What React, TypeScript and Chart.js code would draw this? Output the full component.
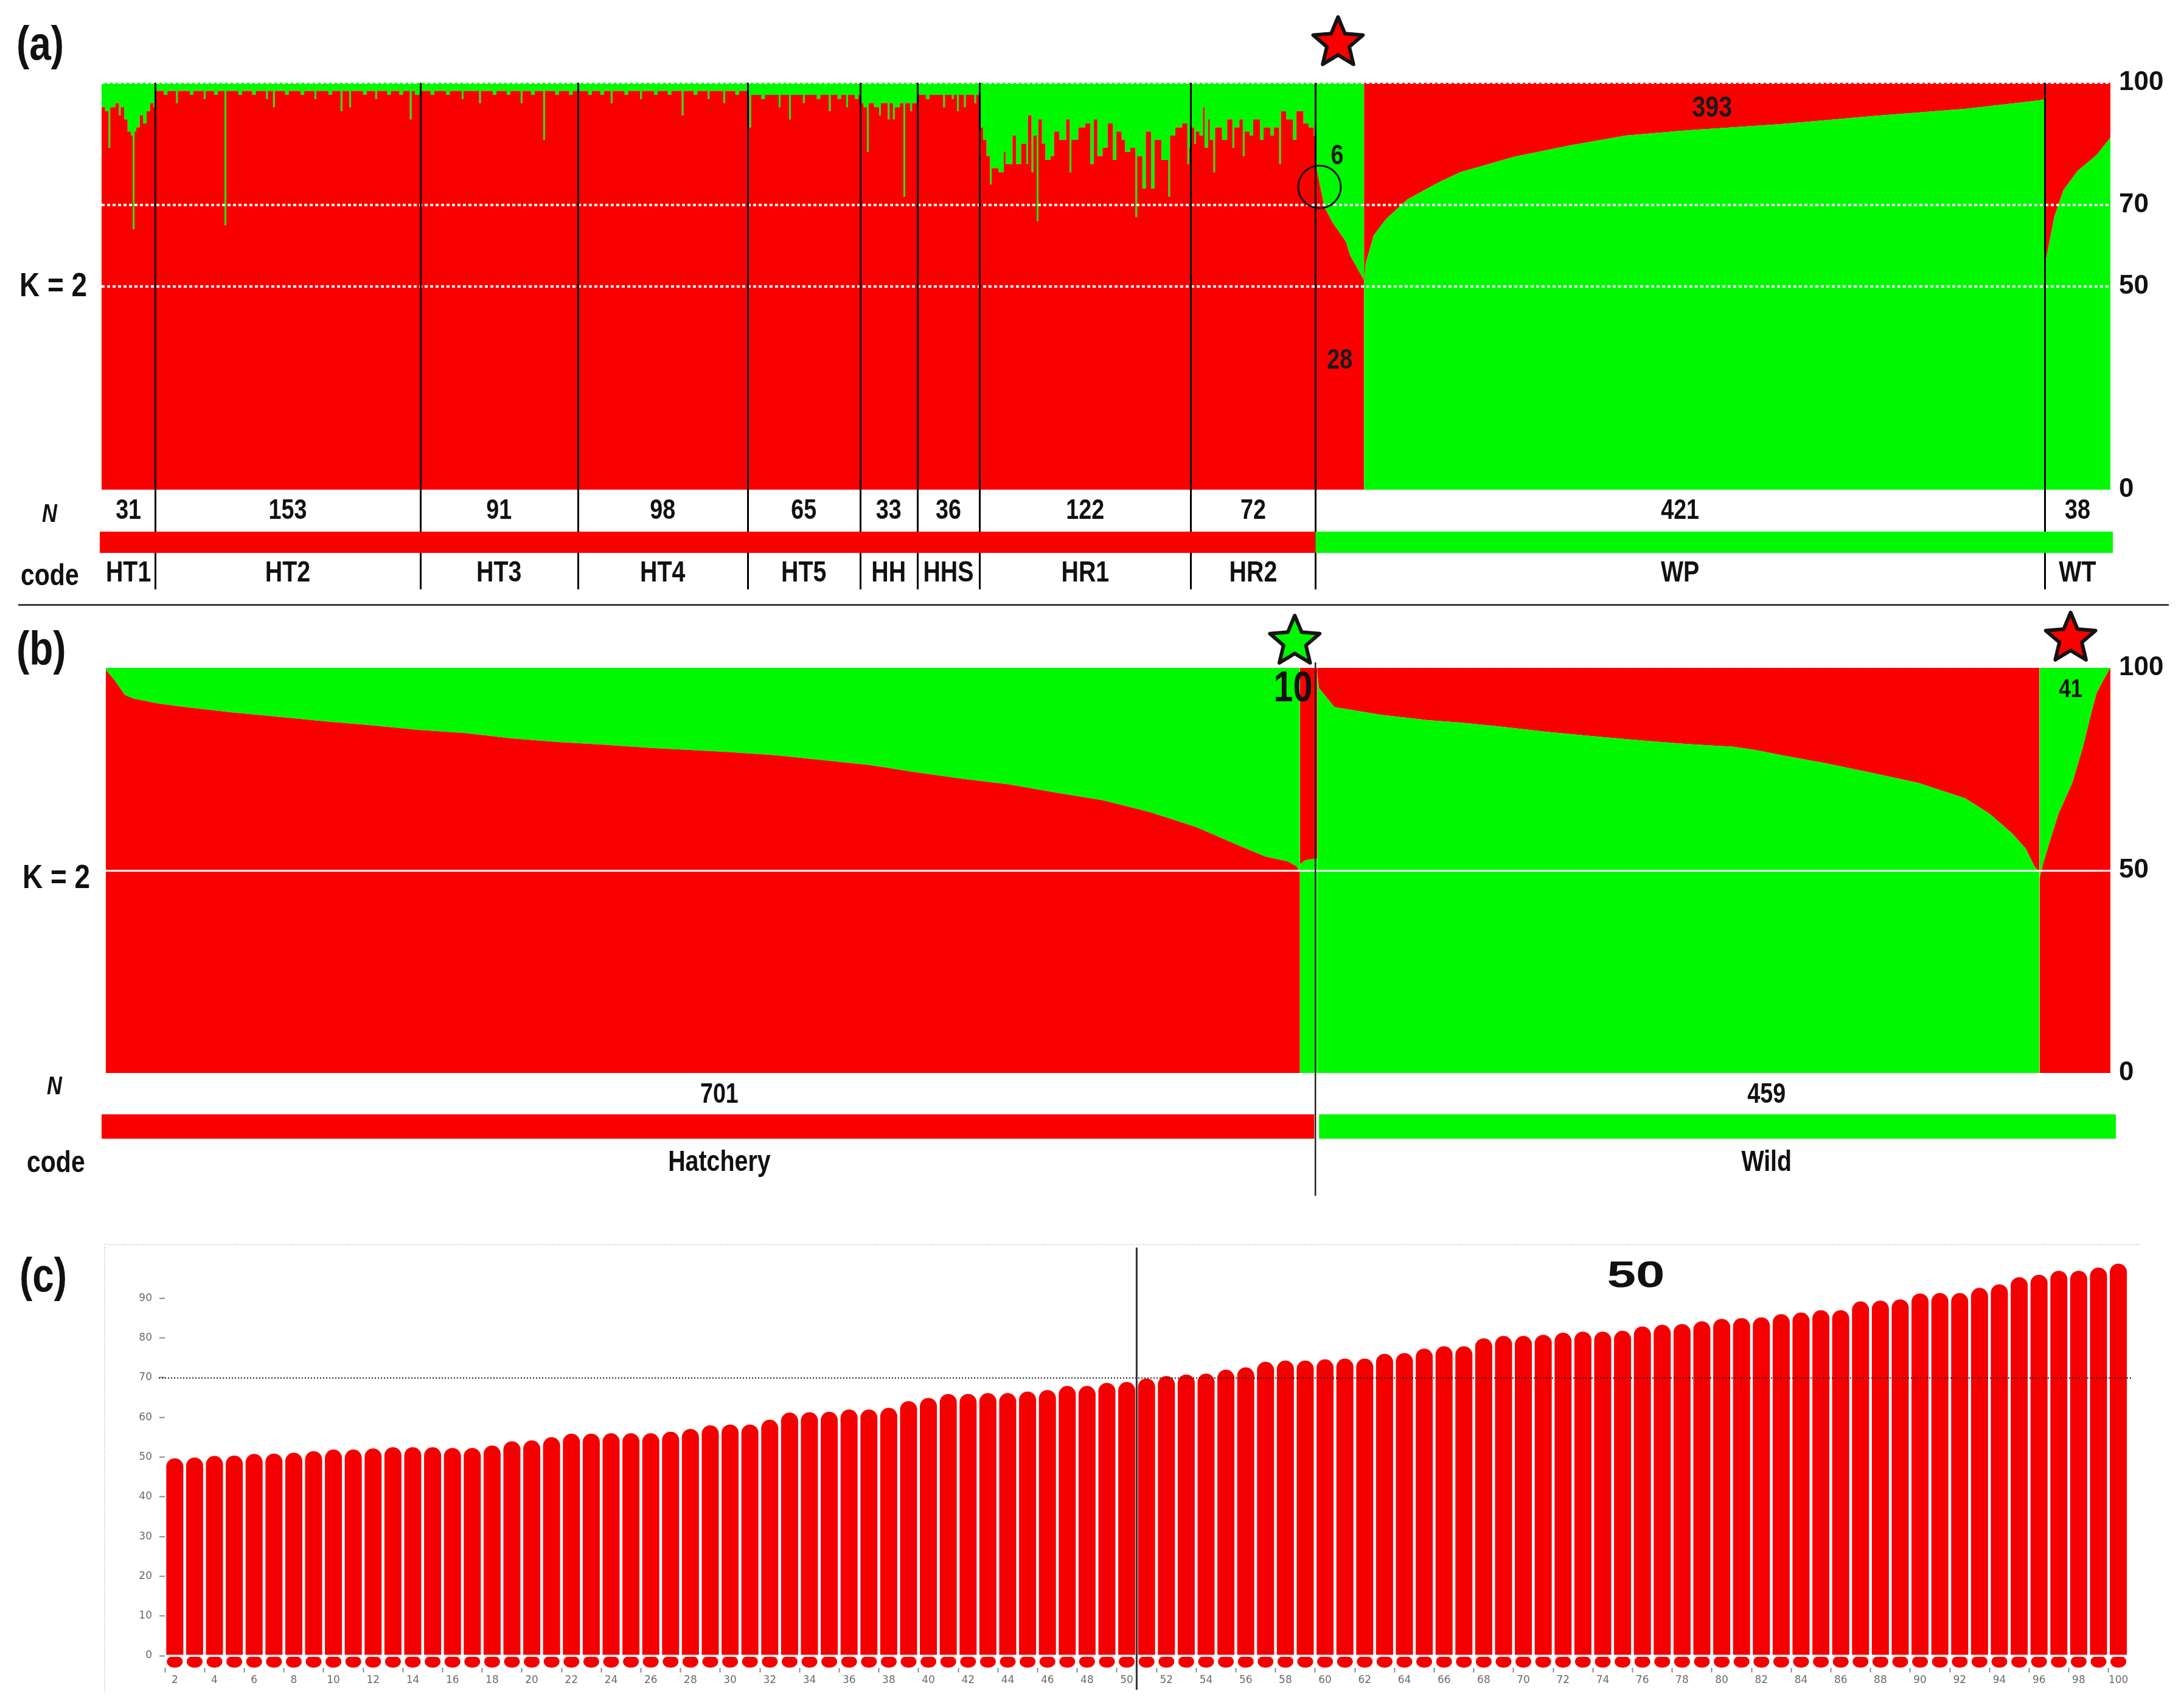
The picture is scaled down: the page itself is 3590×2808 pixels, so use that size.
import React, { useEffect, useRef } from 'react';
import { Chart, registerables } from 'chart.js';

Chart.register(...registerables);

const RED = '#fb0000';
const GREEN = '#00f900';
const BAR_RED = '#f40000';
const SANS = '"Liberation Sans", Arial, sans-serif';
const NARROW_X = 0.82; // horizontal squeeze to mimic a narrow bold face

// ---------------- Panel (a): K = 2, by population ----------------
const popCodesA = ['HT1', 'HT2', 'HT3', 'HT4', 'HT5', 'HH', 'HHS', 'HR1', 'HR2', 'WP', 'WT'];
const popSizesA = [31, 153, 91, 98, 65, 33, 36, 122, 72, 421, 38];
const yTicksA = [0, 50, 70, 100];
// hatchery populations: runs of [individual offset in population, % red cluster]
const runsHT1 = [[0, 94], [2, 93], [4, 84], [5, 94], [8, 95], [10, 92], [11, 94], [13, 91], [15, 88], [17, 87], [18, 64], [19, 88], [20, 89], [22, 92], [24, 90], [26, 93], [28, 95], [30, 94]];
const runsHT2 = [[0, 98], [5, 97], [7, 98], [12, 95], [13, 98], [20, 97], [22, 98], [28, 96], [29, 98], [34, 97], [36, 98], [40, 65], [41, 98], [48, 97], [50, 98], [56, 97], [58, 98], [64, 96], [65, 98], [68, 94], [69, 98], [75, 97], [77, 98], [84, 97], [86, 98], [92, 96], [93, 98], [100, 97], [102, 98], [107, 93], [108, 98], [112, 94], [113, 98], [120, 97], [122, 98], [127, 96], [128, 98], [134, 97], [136, 98], [141, 97], [143, 98], [147, 91], [148, 98], [150, 97]];
const runsHT3 = [[0, 98], [6, 97], [8, 98], [15, 97], [17, 98], [24, 96], [25, 98], [34, 95], [35, 98], [42, 97], [44, 98], [50, 97], [52, 98], [58, 95], [59, 98], [64, 97], [66, 98], [71, 86], [72, 98], [78, 97], [80, 98], [86, 97], [88, 98]];
const runsHT4 = [[0, 98], [6, 97], [8, 98], [13, 97], [15, 98], [19, 95], [20, 98], [27, 97], [29, 98], [36, 96], [37, 98], [44, 97], [46, 98], [52, 97], [54, 98], [60, 92], [61, 98], [67, 97], [69, 98], [75, 96], [76, 98], [84, 95], [85, 98], [91, 97], [93, 98]];
const runsHT5 = [[0, 97], [1, 89], [2, 97], [8, 96], [10, 97], [18, 94], [19, 97], [24, 91], [25, 97], [32, 95], [33, 97], [40, 96], [42, 97], [47, 93], [48, 97], [52, 96], [54, 97], [57, 94], [58, 97], [62, 96], [64, 97]];
const runsHH = [[0, 95], [2, 94], [4, 83], [5, 95], [8, 94], [11, 92], [12, 95], [16, 91], [17, 95], [19, 91], [20, 94], [23, 95], [25, 72], [26, 95], [29, 93], [30, 95]];
const runsHHS = [[0, 97], [5, 96], [7, 97], [15, 94], [16, 97], [20, 96], [21, 97], [23, 93], [24, 97], [27, 94], [28, 97], [33, 95], [34, 97]];
const runsHR1 = [[0, 89], [2, 86], [4, 82], [6, 75], [7, 79], [11, 78], [14, 83], [15, 80], [19, 87], [21, 80], [24, 85], [27, 80], [28, 92], [30, 78], [31, 87], [33, 66], [34, 91], [36, 85], [38, 81], [41, 82], [43, 88], [46, 86], [50, 91], [52, 78], [53, 86], [57, 89], [61, 90], [64, 80], [66, 91], [68, 82], [71, 84], [74, 90], [77, 81], [79, 88], [82, 86], [84, 83], [87, 84], [90, 67], [91, 82], [94, 74], [96, 88], [99, 74], [101, 86], [105, 81], [109, 72], [110, 87], [113, 89], [117, 90], [120, 80], [121, 84]];
const runsHR2 = [[0, 89], [2, 85], [3, 88], [5, 87], [7, 94], [8, 84], [10, 91], [11, 86], [13, 78], [14, 89], [18, 86], [21, 91], [24, 84], [25, 89], [28, 91], [30, 82], [31, 88], [34, 87], [36, 91], [40, 86], [42, 89], [46, 87], [48, 89], [51, 80], [52, 93], [55, 91], [59, 86], [61, 93], [65, 90], [68, 89], [71, 87]];
const hatcheryRunsA = [runsHT1, runsHT2, runsHT3, runsHT4, runsHT5, runsHH, runsHHS, runsHR1, runsHR2];
// WP: first 28 individuals (% red), then 393 individuals (% green); offsets from WP start
const wpSplitA = [28, 393];
const wpHatcheryLikeA = [[0, 80], [2, 76], [5, 69.5], [10, 65.5], [17.5, 61], [20, 57.5], [24, 54.5], [28, 51.5]];
const wpWildA = [[28, 50.5], [29, 55.6], [33.6, 62.5], [40.8, 66.5], [53, 71.3], [71, 75.5], [83.5, 78], [114.7, 81.8], [147, 84.6], [179, 87], [214.5, 88.3], [268, 89.8], [322, 91.8], [376, 93.6], [418.6, 95.7], [421, 96]];
// WT: % green, offsets from WT start
const wtA = [[0, 54], [1, 57], [5.6, 67], [11, 73.7], [19, 78.3], [30, 82.2], [38, 86.5]];
const circledCountA = 6;

// ---------------- Panel (b): K = 2, hatchery vs wild ----------------
const groupNamesB = ['Hatchery', 'Wild'];
const groupSizesB = [701, 459];
const minorityCountsB = [10, 41];
const yTicksB = [0, 50, 100];
// % red, offsets from start
const hatcherySortedB = [[0, 99.5], [5, 97], [11, 93.3], [16, 92.4], [30, 91.2], [46, 90.3], [73, 89], [100, 87.9], [127, 86.8], [154, 85.8], [181, 84.7], [208, 83.9], [235, 82.6], [262, 81.7], [289, 81], [316, 80.2], [361, 79.2], [388, 78.4], [415, 77.2], [442, 76], [469, 74.2], [496, 72.6], [523, 71.2], [550, 69.2], [577, 67.3], [604, 64.4], [631, 60.7], [644, 58.3], [657, 55.9], [671, 53.4], [684, 52.2], [689, 51], [691, 49.5]];
// % green, 10 hatchery fish assigned to wild
const hatcheryMinorityB = [[0, 51.5], [3, 52.5], [10, 53]];
// % green
const wildSortedB = [[0, 99], [1, 95], [10, 90.3], [37, 88.4], [64, 87.1], [83, 86.5], [106, 85.5], [133, 84.2], [160, 83.1], [187, 82.1], [214, 81.2], [241, 80.5], [254, 79.7], [268, 78.5], [295, 76.4], [322, 74], [348, 71.6], [375, 67.8], [389, 64], [402, 59.2], [410, 55.4], [415, 51], [418, 49.5]];
// % red, 41 wild fish assigned to hatchery
const wildMinorityB = [[0, 48], [2, 51.5], [6, 57.2], [11, 64], [19, 71.6], [25, 80.2], [30, 88.9], [33, 93.7], [37, 97], [41, 100]];

// ---------------- Panel (c) ----------------
const cLabels = [2, 3, 4, 5, 6, 7, 8, 9, 10, 11, 12, 13, 14, 15, 16, 17, 18, 19, 20, 21, 22, 23, 24, 25, 26, 27, 28, 29, 30, 31, 32, 33, 34, 35, 36, 37, 38, 39, 40, 41, 42, 43, 44, 45, 46, 47, 48, 49, 50, 51, 52, 53, 54, 55, 56, 57, 58, 59, 60, 61, 62, 63, 64, 65, 66, 67, 68, 69, 70, 71, 72, 73, 74, 75, 76, 77, 78, 79, 80, 81, 82, 83, 84, 85, 86, 87, 88, 89, 90, 91, 92, 93, 94, 95, 96, 97, 98, 99, 100];
const cValues = [49.7, 49.9, 50.3, 50.4, 50.8, 50.9, 51.1, 51.5, 51.9, 51.9, 52.2, 52.5, 52.5, 52.5, 52.3, 52.3, 52.9, 54.0, 54.2, 55.0, 55.9, 55.9, 56.0, 56.0, 56.0, 56.4, 57.1, 58.0, 58.2, 58.2, 59.4, 61.2, 61.3, 61.4, 62.0, 62.0, 62.4, 64.1, 64.9, 65.9, 65.9, 66.1, 66.1, 66.5, 66.9, 67.9, 67.9, 68.7, 68.9, 69.8, 70.4, 70.8, 71.0, 72.0, 72.6, 74.0, 74.3, 74.3, 74.6, 74.8, 74.8, 76.0, 76.2, 77.3, 77.9, 77.9, 79.9, 80.5, 80.5, 80.8, 81.3, 81.6, 81.6, 81.8, 82.9, 83.3, 83.5, 84.2, 84.8, 85.0, 85.2, 86.0, 86.4, 87.0, 87.0, 89.2, 89.4, 89.7, 91.2, 91.3, 91.3, 92.6, 93.5, 95.3, 95.9, 96.9, 96.9, 97.7, 98.7];
const cYTicks = [0, 10, 20, 30, 40, 50, 60, 70, 80, 90];
const cThreshold = 70;
const cSplitAt = 50;

// ---------------- helpers ----------------
const sum = (a: number[]) => a.reduce((s, v) => s + v, 0);
const TOTAL = sum(popSizesA);

function pts(pairs: number[][], base: number) {
  return pairs.map(([o, v]) => ({ x: base + o, y: v }));
}

function region(points: any[], lower: string, upper: string, stepped: any = false) {
  const common = { pointRadius: 0, pointHoverRadius: 0, borderWidth: 0, borderColor: 'rgba(0,0,0,0)', stepped, tension: 0 };
  return [
    { ...common, data: points.map((p) => ({ ...p })), fill: 'origin', backgroundColor: lower },
    { ...common, data: points.map((p) => ({ ...p })), fill: { value: 100 }, backgroundColor: upper },
  ];
}

function hatcheryPointsA() {
  const out: any[] = [];
  let start = 0;
  hatcheryRunsA.forEach((runs, k) => {
    runs.forEach(([o, v]) => out.push({ x: start + o, y: v }));
    start += popSizesA[k];
  });
  out.push({ x: start, y: out[out.length - 1].y });
  return out;
}

function narrowText(ctx: any, s: string, x: number, y: number, size: number, color = '#111') {
  ctx.save();
  ctx.translate(x, y);
  ctx.scale(NARROW_X, 1);
  ctx.font = `bold ${size}px ${SANS}`;
  ctx.fillStyle = color;
  ctx.textAlign = 'center';
  ctx.textBaseline = 'middle';
  ctx.fillText(s, 0, 0);
  ctx.restore();
}

function drawStar(ctx: any, cx: number, cy: number, R: number, fill: string) {
  const r = R * 0.45;
  ctx.beginPath();
  for (let k = 0; k < 10; k++) {
    const ang = -Math.PI / 2 + (k * Math.PI) / 5;
    const rad = k % 2 === 0 ? R : r;
    const px = cx + rad * Math.cos(ang);
    const py = cy + rad * Math.sin(ang);
    if (k === 0) ctx.moveTo(px, py);
    else ctx.lineTo(px, py);
  }
  ctx.closePath();
  ctx.fillStyle = fill;
  ctx.fill();
  ctx.lineJoin = 'round';
  ctx.lineWidth = 6;
  ctx.strokeStyle = '#141414';
  ctx.stroke();
}

const panelAPlugin = {
  id: 'panelA',
  afterDraw(chart: any) {
    const { ctx, chartArea: ca, scales } = chart;
    const X = (i: number) => scales.x.getPixelForValue(i);
    const Y = (v: number) => scales.y.getPixelForValue(v);
    const starts: number[] = [];
    let acc = 0;
    popSizesA.forEach((n) => { starts.push(acc); acc += n; });
    const hatchTotal = starts[popCodesA.indexOf('WP')];
    ctx.save();
    ctx.strokeStyle = '#000';
    ctx.lineWidth = 3;
    for (let k = 1; k < popSizesA.length; k++) {
      const px = Math.round(X(starts[k])) + 0.5;
      ctx.beginPath();
      ctx.moveTo(px, ca.top);
      ctx.lineTo(px, 969);
      ctx.stroke();
    }
    ctx.fillStyle = RED;
    ctx.fillRect(X(0) - 3, 874, X(hatchTotal) - X(0) + 3, 35);
    ctx.fillStyle = GREEN;
    ctx.fillRect(X(hatchTotal), 874, X(TOTAL) + 4 - X(hatchTotal), 35);
    popSizesA.forEach((n, k) => {
      const cx = X(starts[k] + n / 2);
      narrowText(ctx, String(n), cx, 840, 46);
      narrowText(ctx, popCodesA[k], cx, 943, 48);
    });
    // annotations
    narrowText(ctx, String(circledCountA), X(713.5), Y(81.8), 46, '#1a1a1a');
    narrowText(ctx, String(wpSplitA[0]), X(715), Y(31.7), 46, '#1a1a1a');
    narrowText(ctx, String(wpSplitA[1]), X(930), Y(93.6), 48, '#1a1a1a');
    ctx.beginPath();
    ctx.lineWidth = 3;
    ctx.strokeStyle = '#111';
    ctx.arc(X(703.3), Y(74.4), 35, 0, Math.PI * 2);
    ctx.stroke();
    drawStar(ctx, X(714), 71, 43, RED);
    ctx.restore();
  },
};

const panelBPlugin = {
  id: 'panelB',
  afterDraw(chart: any) {
    const { ctx, scales } = chart;
    const X = (i: number) => scales.x.getPixelForValue(i);
    const Y = (v: number) => scales.y.getPixelForValue(v);
    const split = groupSizesB[0];
    const total = sum(groupSizesB);
    ctx.save();
    ctx.fillStyle = RED;
    ctx.fillRect(X(0) - 7, 832, X(split) - 5 - (X(0) - 7), 40);
    ctx.fillStyle = GREEN;
    ctx.fillRect(X(split) + 3, 832, X(total) + 9 - (X(split) + 3), 40);
    ctx.strokeStyle = '#222';
    ctx.lineWidth = 2.5;
    ctx.beginPath();
    ctx.moveTo(X(split) - 3, 89);
    ctx.lineTo(X(split) - 3, 966);
    ctx.stroke();
    const labelAt = [355, 961];
    groupSizesB.forEach((n, k) => {
      narrowText(ctx, String(n), X(labelAt[k]), 800, 46);
      narrowText(ctx, groupNamesB[k], X(labelAt[k]), 912, 48);
    });
    drawStar(ctx, X(688), 55, 43, GREEN);
    drawStar(ctx, X(1137), 50, 43, RED);
    narrowText(ctx, String(minorityCountsB[0]), X(687), Y(94.6), 70);
    narrowText(ctx, String(minorityCountsB[1]), X(1137), Y(94.6), 42);
    ctx.restore();
  },
};

const panelCPlugin = {
  id: 'panelC',
  afterDatasetsDraw(chart: any) {
    const { ctx, scales } = chart;
    const meta = chart.getDatasetMeta(0);
    ctx.save();
    ctx.fillStyle = BAR_RED;
    meta.data.forEach((bar: any) => {
      ctx.beginPath();
      ctx.ellipse(bar.x, scales.y.getPixelForValue(-1.5), 13, 10, 0, 0, Math.PI * 2);
      ctx.fill();
    });
    ctx.restore();
  },
  afterDraw(chart: any) {
    const { ctx, scales } = chart;
    ctx.save();
    ctx.setLineDash([2, 3]);
    ctx.strokeStyle = '#111';
    ctx.lineWidth = 2;
    const y70 = Math.round(scales.y.getPixelForValue(cThreshold)) + 0.5;
    ctx.beginPath();
    ctx.moveTo(261, y70);
    ctx.lineTo(3505, y70);
    ctx.stroke();
    ctx.setLineDash([]);
    const si = cLabels.indexOf(cSplitAt);
    const xs = (scales.x.getPixelForValue(si) + scales.x.getPixelForValue(si + 1)) / 2;
    ctx.strokeStyle = '#333';
    ctx.lineWidth = 3;
    ctx.beginPath();
    ctx.moveTo(xs, 51);
    ctx.lineTo(xs, 778);
    ctx.stroke();
    ctx.restore();
  },
};

function structureOptions(padding: any, ticks: number[], gridColor: (v: number) => string, gridWidth: number, dash: number[]) {
  return {
    animation: false,
    responsive: false,
    events: [],
    layout: { padding },
    plugins: { legend: { display: false }, tooltip: { enabled: false } },
    scales: {
      x: { type: 'linear', min: 0, max: TOTAL, display: false },
      y: {
        position: 'right',
        min: 0,
        max: 100,
        afterBuildTicks: (s: any) => { s.ticks = ticks.map((v) => ({ value: v })); },
        afterFit: (s: any) => { s.width = 121; },
        grid: { z: 1, drawTicks: false, lineWidth: gridWidth, color: (c: any) => (c.tick ? gridColor(c.tick.value) : 'rgba(0,0,0,0)') },
        border: { display: false, dash },
        ticks: { padding: 14, color: '#111', font: { family: SANS, size: 44, weight: 'bold' } },
      },
    },
  };
}

function configA(): any {
  const wpStart = popSizesA.slice(0, 9).reduce((s, v) => s + v, 0);
  const wtStart = wpStart + popSizesA[9];
  const datasets = [
    ...region(hatcheryPointsA(), RED, GREEN, 'before'),
    ...region(pts(wpHatcheryLikeA, wpStart), RED, GREEN),
    ...region(pts(wpWildA, wpStart), GREEN, RED),
    ...region(pts(wtA, wtStart), GREEN, RED),
  ];
  return {
    type: 'line',
    data: { datasets },
    options: structureOptions({ left: 167, top: 136, right: 0, bottom: 185 }, yTicksA, (v) => (v > 0 ? '#ffffff' : 'rgba(0,0,0,0)'), 4, [5, 4]),
    plugins: [panelAPlugin],
  };
}

function configB(): any {
  const split = groupSizesB[0];
  const total = sum(groupSizesB);
  const datasets = [
    ...region(pts(hatcherySortedB, 0), RED, GREEN),
    ...region(pts(hatcheryMinorityB, split - minorityCountsB[0]), GREEN, RED),
    ...region(pts(wildSortedB, split), GREEN, RED),
    ...region(pts(wildMinorityB, total - minorityCountsB[1]), RED, GREEN),
  ];
  return {
    type: 'line',
    data: { datasets },
    options: structureOptions({ left: 174, top: 98, right: 0, bottom: 226 }, yTicksB, (v) => (v === 50 ? '#ffffff' : 'rgba(0,0,0,0)'), 3, []),
    plugins: [panelBPlugin],
  };
}

function configC(): any {
  return {
    type: 'bar',
    data: {
      labels: cLabels.map(String),
      datasets: [{ data: cValues, backgroundColor: BAR_RED, borderRadius: 14, borderSkipped: 'start', barPercentage: 0.86, categoryPercentage: 1 }],
    },
    options: {
      animation: false,
      responsive: false,
      events: [],
      layout: { padding: { left: 171, top: 69, right: 91.6, bottom: 26.4 } },
      plugins: { legend: { display: false }, tooltip: { enabled: false } },
      scales: {
        x: {
          grid: { drawOnChartArea: false, drawTicks: true, tickLength: 8, tickWidth: 2, tickColor: (c: any) => (c.index % 2 === 0 ? '#8a8a8a' : 'rgba(0,0,0,0)') },
          border: { display: false },
          afterFit: (s: any) => { s.height = 40; },
          ticks: {
            autoSkip: false, maxRotation: 0, minRotation: 0, padding: 3, color: '#6a6a6a',
            font: { family: '"DejaVu Sans", sans-serif', size: 17 },
            callback: function (this: any, v: any, i: number) { return i % 2 === 0 ? this.getLabelForValue(v) : ''; },
          },
        },
        y: {
          min: -3,
          max: 100,
          afterBuildTicks: (s: any) => { s.ticks = cYTicks.map((v) => ({ value: v })); },
          afterFit: (s: any) => { s.width = 100; },
          grid: {
            z: 1, drawOnChartArea: true, drawTicks: true, tickLength: 9, tickWidth: 2, tickColor: '#8a8a8a', lineWidth: 3,
            color: (c: any) => (c.tick && c.tick.value === 0 ? 'rgba(255,255,255,0.9)' : 'rgba(0,0,0,0)'),
          },
          border: { display: false },
          ticks: { padding: 12, color: '#6a6a6a', font: { family: '"DejaVu Sans", sans-serif', size: 17 } },
        },
      },
    },
    plugins: [panelCPlugin],
  };
}

function Label(props: { text: string; left: number; cy: number; size: number; italic?: boolean; paren?: boolean }) {
  const { text, left, cy, size, italic, paren } = props;
  return (
    <div
      style={{
        position: 'absolute', left, top: cy - (paren ? 0.587 : 0.48) * size, fontSize: size, lineHeight: 1,
        fontFamily: SANS, fontWeight: 'bold', fontStyle: italic ? 'italic' : 'normal', color: '#111', whiteSpace: 'nowrap',
        transform: `scaleX(${NARROW_X})`, transformOrigin: 'left center',
      }}
    >
      {text}
    </div>
  );
}

export default function App() {
  const aRef = useRef<HTMLCanvasElement>(null);
  const bRef = useRef<HTMLCanvasElement>(null);
  const cRef = useRef<HTMLCanvasElement>(null);

  useEffect(() => {
    const charts = [
      new Chart(aRef.current as HTMLCanvasElement, configA()),
      new Chart(bRef.current as HTMLCanvasElement, configB()),
      new Chart(cRef.current as HTMLCanvasElement, configC()),
    ];
    return () => charts.forEach((c) => c.destroy());
  }, []);

  const cv = (top: number, h: number) => ({ position: 'absolute' as const, left: 0, top, width: 3590, height: h });

  return (
    <div style={{ position: 'absolute', left: 0, top: 0, width: 3590, height: 2808, background: '#fff', overflow: 'hidden' }}>
      <canvas ref={aRef} width={3590} height={990} style={cv(0, 990)} />
      <canvas ref={bRef} width={3590} height={990} style={cv(1000, 990)} />
      <canvas ref={cRef} width={3590} height={808} style={cv(2000, 808)} />

      <div style={{ position: 'absolute', left: 30, top: 993, width: 3535, height: 3, background: '#3a3a3a' }} />
      <div style={{ position: 'absolute', left: 171, top: 2045, width: 3344, height: 733, borderTop: '2px dotted #d6d6d6', borderLeft: '2px dotted #d6d6d6' }} />

      <Label text="(a)" left={27} cy={78} size={78} paren />
      <Label text="K = 2" left={32} cy={467} size={56} />
      <Label text="N" left={69} cy={843} size={42} italic />
      <Label text="code" left={34} cy={944} size={50} />

      <Label text="(b)" left={27} cy={1073} size={78} paren />
      <Label text="K = 2" left={37} cy={1440} size={56} />
      <Label text="N" left={77} cy={1784} size={42} italic />
      <Label text="code" left={44} cy={1909} size={50} />

      <Label text="(c)" left={32} cy={2103} size={78} paren />
      <div
        style={{
          position: 'absolute', left: 2689, top: 2094 - 0.48 * 61, fontSize: 61, lineHeight: 1, fontFamily: SANS,
          fontWeight: 'bold', color: '#111', transform: 'translateX(-50%) scaleX(1.4)', whiteSpace: 'nowrap',
        }}
      >
        50
      </div>
    </div>
  );
}
